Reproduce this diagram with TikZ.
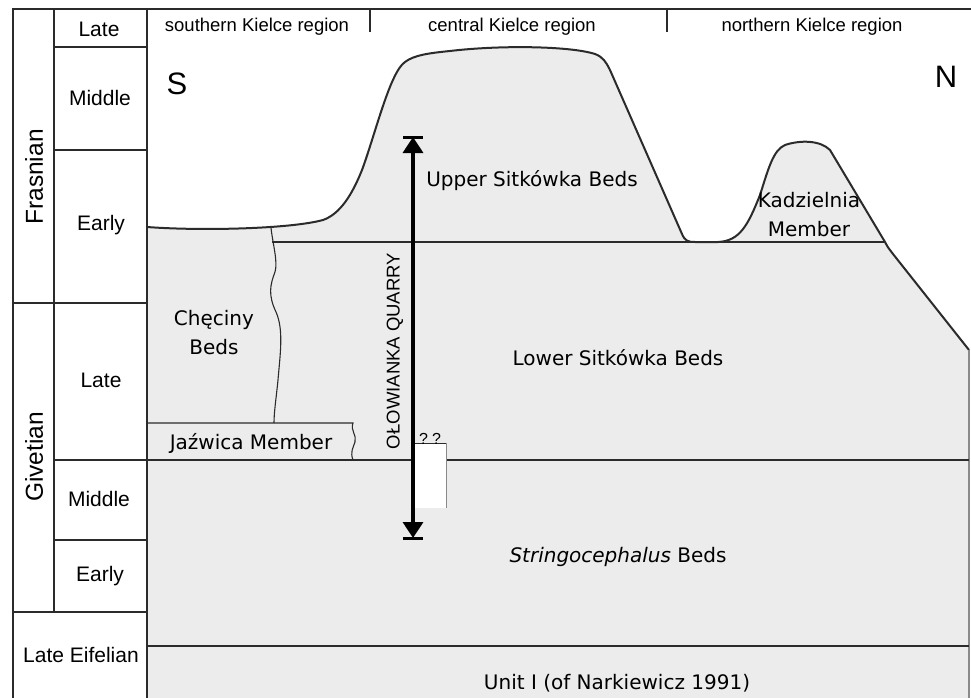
\documentclass[tikz,border=0pt]{standalone}
\usepackage{fontspec}
\setmainfont{Liberation Sans}
\newfontfamily\bedfont{DejaVu Sans}
\usetikzlibrary{arrows.meta}
\definecolor{rockfill}{HTML}{ECECEC}
\definecolor{ink}{HTML}{2B2B2B}
\definecolor{edgegray}{HTML}{8A8A8A}

\tikzset{
  frame/.style={draw=ink, line width=1.3pt},
  inner/.style={draw=ink, line width=1.1pt},
  relief/.style={draw=ink, line width=2pt, line join=round},
  headtext/.style={inner sep=0pt, font=\fontsize{18.5}{22}\selectfont},
  agetext/.style={inner sep=0pt, font=\fontsize{21}{24}\selectfont},
  stagetext/.style={inner sep=0pt, rotate=90, font=\fontsize{24.5}{28}\selectfont},
  bedtext/.style={inner sep=0pt, align=center, font=\bedfont\fontsize{20}{29}\selectfont},
  compass/.style={inner sep=0pt, font=\fontsize{31}{34}\selectfont},
}

\begin{document}
\begin{tikzpicture}[x=1pt,y=-1pt]
\useasboundingbox (0,0) rectangle (971,698);

% rock body (grey) with its relief
\fill[rockfill] (147,227) .. controls (200,231) and (290,229) .. (323,220)
  .. controls (340,214) and (352,195) .. (362,170)
  .. controls (375,135) and (390,72) .. (405,62)
  .. controls (414,55) and (430,53) .. (450,51)
  .. controls (500,45) and (570,46) .. (595,54)
  .. controls (603,57) and (606,62) .. (610,70)
  -- (682,234) .. controls (685,241) and (688,242) .. (695,242) -- (718,242)
  .. controls (740,241) and (748,225) .. (760,195)
  .. controls (768,170) and (773,150) .. (785,145)
  .. controls (800,140) and (820,140) .. (830,150)
  -- (885,242) .. controls (888,248) and (890,250) .. (893,254) -- (969,350)
  -- (969,698) -- (147,698) -- cycle;
\draw[relief] (147,227) .. controls (200,231) and (290,229) .. (323,220)
  .. controls (340,214) and (352,195) .. (362,170)
  .. controls (375,135) and (390,72) .. (405,62)
  .. controls (414,55) and (430,53) .. (450,51)
  .. controls (500,45) and (570,46) .. (595,54)
  .. controls (603,57) and (606,62) .. (610,70)
  -- (682,234) .. controls (685,241) and (688,242) .. (695,242) -- (718,242)
  .. controls (740,241) and (748,225) .. (760,195)
  .. controls (768,170) and (773,150) .. (785,145)
  .. controls (800,140) and (820,140) .. (830,150)
  -- (885,242) .. controls (888,248) and (890,250) .. (893,254) -- (969,350);
\draw[edgegray, line width=1.2pt] (969,350) -- (969,698);

% bed boundaries
\draw[inner] (272,242) -- (885,242);
\draw[inner] (271,228) .. controls (273,245) and (278,262) .. (275,272)
  .. controls (270,285) and (268,295) .. (276,312)
  .. controls (284,330) and (280,355) .. (278,380)
  .. controls (276,400) and (274,412) .. (274,423);
\draw[inner] (147,423) -- (353,423)
  .. controls (350,430) and (357,435) .. (355,442)
  .. controls (353,448) and (350,452) .. (353,460);
\draw[inner] (54,460) -- (969,460);
\draw[inner] (147,646) -- (969,646);

% gap in the quarry section
\fill[white] (415,443) rectangle (446,508);
\draw[edgegray, line width=0.8pt] (446,443) -- (446,508);
\draw[ink, line width=0.7pt] (415,443) -- (446,443);
\node[inner sep=0pt, font=\fontsize{16}{18}\selectfont] (gapq) at (430,439) {?\hspace{4pt}?};

% quarry section arrow
\coordinate (qtop) at (413,137);
\coordinate (qbot) at (413,538);
\draw[black, line width=3.4pt, {Triangle[length=16pt,width=20pt]}-{Triangle[length=16pt,width=20pt]}] (qtop) -- (qbot);
\draw[black, line width=3pt] ([xshift=-10pt]qtop) -- ([xshift=10pt]qtop);
\draw[black, line width=3pt] ([xshift=-10pt]qbot) -- ([xshift=10pt]qbot);
\node[headtext, rotate=90] (quarry) at (395,351) {OŁOWIANKA QUARRY};

% stratigraphic frame
\draw[frame] (13,698) -- (13,9) -- (971,9);
\draw[frame] (54,9) -- (54,612);
\draw[frame] (147,9) -- (147,698);
\draw[frame] (54,47) -- (147,47);
\draw[frame] (54,150) -- (147,150);
\draw[frame] (13,303) -- (147,303);
\draw[frame] (54,540) -- (147,540);
\draw[frame] (13,612) -- (147,612);
\draw[frame] (370,9) -- (370,32);
\draw[frame] (667,9) -- (667,32);

% age labels
\node[agetext] (frlate) at (99,29) {Late};
\node[agetext] (frmid) at (100,98) {Middle};
\node[agetext] (frearly) at (101,225) {Early};
\node[agetext] (gvlate) at (101,380) {Late};
\node[agetext] (gvmid) at (99,499) {Middle};
\node[agetext] (gvearly) at (100,576) {Early};
\node[agetext] (eif) at (81,655) {Late Eifelian};
\node[stagetext] (frasnian) at (34,177) {Frasnian};
\node[stagetext] (givetian) at (34,457) {Givetian};

% regions
\node[headtext] (south) at (257,27) {southern Kielce region};
\node[headtext] (central) at (512,27) {central Kielce region};
\node[headtext] (north) at (812,27) {northern Kielce region};
\node[compass] (s) at (177,84) {S};
\node[compass] (n) at (946,77) {N};

% bed names
\node[bedtext] (upper) at (532,181) {Upper Sitkówka Beds};
\node[bedtext] (kadz) at (809,215) {Kadzielnia\\Member};
\node[bedtext] (checiny) at (214,333) {Chęciny\\Beds};
\node[bedtext] (lower) at (618,358) {Lower Sitkówka Beds};
\node[bedtext] (jazw) at (251,443) {Jaźwica Member};
\node[bedtext] (stringo) at (618,557) {\textit{Stringocephalus} Beds};
\node[bedtext] (unit) at (617,683) {Unit I (of Narkiewicz 1991)};
\end{tikzpicture}
\end{document}
